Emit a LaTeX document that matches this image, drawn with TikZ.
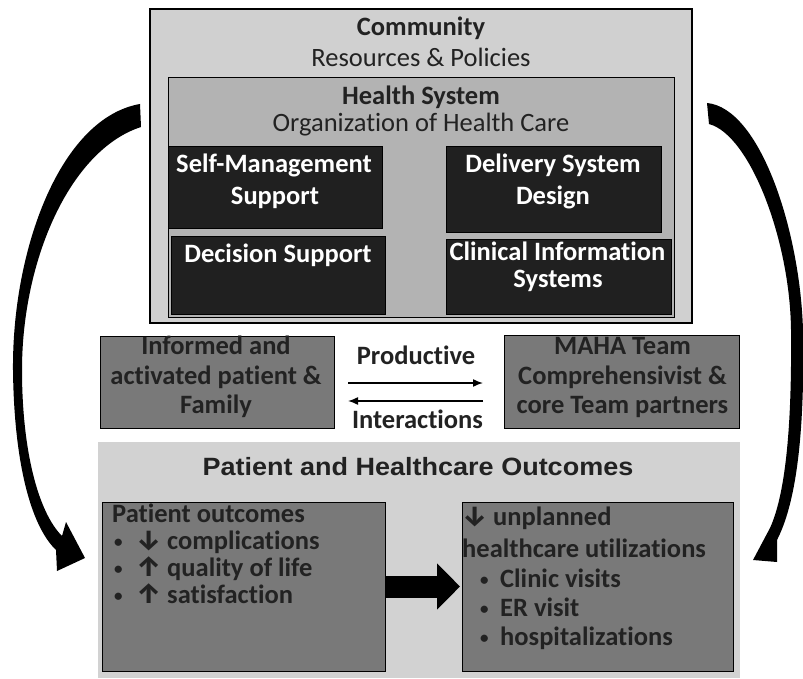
\documentclass[tikz,border=0pt]{standalone}
\usepackage{fontspec}
\setmainfont{Carlito}[Ligatures={NoCommon}]
\newfontfamily\hdrfont{Liberation Sans}[FakeStretch=1.08]
\newfontfamily\arrfont{Fira Sans}
\usetikzlibrary{arrows.meta}
\definecolor{commfill}{HTML}{D0D0D0}
\definecolor{hsfill}{HTML}{B3B3B3}
\definecolor{darkfill}{HTML}{202020}
\definecolor{midfill}{HTML}{797979}
\definecolor{outfill}{HTML}{D2D2D2}
\definecolor{txt}{HTML}{222222}
\newcommand\fsz{\fontsize{26.5}{30}\selectfont}
\newcommand\arr[1]{{\arrfont\fontsize{28}{30}\selectfont #1}}
\newcommand\bul{\raisebox{1.5pt}{\fontsize{17}{18}\selectfont\textbullet}}
\begin{document}
\begin{tikzpicture}[x=1pt,y=-1pt,
  box/.style={draw=black, line width=1pt, inner sep=0pt, outer sep=0pt},
  darkbox/.style={box, fill=darkfill},
  midbox/.style={box, fill=midfill},
  lbl/.style={inner sep=0pt, anchor=base, font=\fsz, text=txt},
  wlbl/.style={lbl, text=white, font=\fsz\bfseries},
  mlbl/.style={lbl, font=\fsz\bfseries},
  llbl/.style={inner sep=0pt, anchor=base west, font=\fsz\bfseries, text=txt},
  thinarr/.style={line width=1.5pt, -{Latex[length=10pt,width=8pt]}},
  bigarr/.style={fill=black}
]
\useasboundingbox (0,0) rectangle (803,679);

% community and health system
\node[box, line width=1.2pt, fill=commfill, minimum width=542pt, minimum height=314pt] (comm) at (421,166) {};
\node[box, fill=hsfill, minimum width=506pt, minimum height=239pt] (hs) at (421,197.5) {};
\node[lbl, font=\fsz\bfseries] (commt) at (421,36) {Community};
\node[lbl] (rest) at (421,67) {Resources \& Policies};
\node[lbl, font=\fsz\bfseries] (hst) at (421,105) {Health System};
\node[lbl] (orgt) at (421,132) {Organization of Health Care};

\node[darkbox, minimum width=214pt, minimum height=82pt] (sms) at (275,188) {};
\node[darkbox, minimum width=214pt, minimum height=78pt] (dsup) at (278,275) {};
\node[darkbox, minimum width=215pt, minimum height=86pt] (dsd) at (553.5,190) {};
\node[darkbox, minimum width=225pt, minimum height=75pt] (cis) at (558.5,276.5) {};
\node[wlbl] (smst1) at (274,173) {Self-Management};
\node[wlbl] (smst2) at (275,205) {Support};
\node[wlbl] (dsupt) at (278,262) {Decision Support};
\node[wlbl] (dsdt1) at (553,173) {Delivery System};
\node[wlbl] (dsdt2) at (553,205) {Design};
\node[wlbl] (cist1) at (557.5,260) {Clinical Information};
\node[wlbl] (cist2) at (558,287) {Systems};

% middle row
\node[midbox, minimum width=234pt, minimum height=92pt] (fam) at (217,382) {};
\node[midbox, minimum width=235pt, minimum height=93pt] (team) at (621.5,381.5) {};
\node[mlbl] (famt1) at (216,354) {Informed and};
\node[mlbl] (famt2) at (216,384) {activated patient \&};
\node[mlbl] (famt3) at (216,413) {Family};
\node[mlbl] (teamt1) at (622.5,354) {MAHA Team};
\node[mlbl] (teamt2) at (622.5,384) {Comprehensivist \&};
\node[mlbl] (teamt3) at (622.5,413) {core Team partners};
\node[mlbl] (prodt) at (416,364) {Productive};
\node[mlbl] (intt) at (417.5,428) {Interactions};
\draw[thinarr, shorten <=14pt, shorten >=21pt] (fam.east |- 0,383) -- (team.west |- 0,383);
\draw[thinarr, shorten <=21pt, shorten >=14pt] (team.west |- 0,401) -- (fam.east |- 0,401);

% outcomes
\node[fill=outfill, inner sep=0pt, minimum width=642pt, minimum height=236pt] (outc) at (419,560) {};
\node[inner sep=0pt, anchor=base, text=txt, font=\hdrfont\bfseries\fontsize{25}{29}\selectfont] (outct) at (418,475) {Patient and Healthcare Outcomes};
\node[midbox, minimum width=283pt, minimum height=169pt] (po) at (243.5,586.5) {};
\node[midbox, minimum width=271pt, minimum height=169pt] (hu) at (597.5,586.5) {};
\node[llbl] (pot0) at (112,522) {Patient outcomes};
\node[llbl] (pot1) at (112,549) {\makebox[24pt][l]{\hspace{2pt}\bul}\makebox[31pt][l]{\arr{↓}}complications};
\node[llbl] (pot2) at (112,576) {\makebox[24pt][l]{\hspace{2pt}\bul}\makebox[31pt][l]{\arr{↑}}quality of life};
\node[llbl] (pot3) at (112,603) {\makebox[24pt][l]{\hspace{2pt}\bul}\makebox[31pt][l]{\arr{↑}}satisfaction};
\node[llbl] (hut0) at (462,525) {\makebox[31pt][l]{\arr{↓}}unplanned};
\node[llbl] (hut1) at (462,557) {healthcare utilizations};
\node[llbl] (hut2) at (462,587) {\hspace{18pt}\makebox[20pt][l]{\bul}Clinic visits};
\node[llbl] (hut3) at (462,616) {\hspace{18pt}\makebox[20pt][l]{\bul}ER visit};
\node[llbl] (hut4) at (462,645) {\hspace{18pt}\makebox[20pt][l]{\bul}hospitalizations};
\draw[line width=22pt, -{Triangle[length=23pt,width=45pt]}, shorten >=2pt] (po.east) -- (hu.west);

% curved arrows
\fill[bigarr] (140,104) .. controls (60,118) and (12,250) .. (13,370)
   .. controls (14,460) and (30,525) .. (56,550)
   -- (57,571) -- (85,558) -- (66,522) -- (62,536)
   .. controls (38,512) and (22,450) .. (22,370)
   .. controls (22,260) and (70,150) .. (141,127) -- cycle;
\fill[bigarr] (707,103) .. controls (760,108) and (800,230) .. (803,330)
   .. controls (805,440) and (795,505) .. (777,540)
   -- (777,562) -- (753,560) -- (770,528)
   .. controls (785,495) and (792,430) .. (791,330)
   .. controls (790,240) and (750,135) .. (709,124) -- cycle;
\end{tikzpicture}
\end{document}
